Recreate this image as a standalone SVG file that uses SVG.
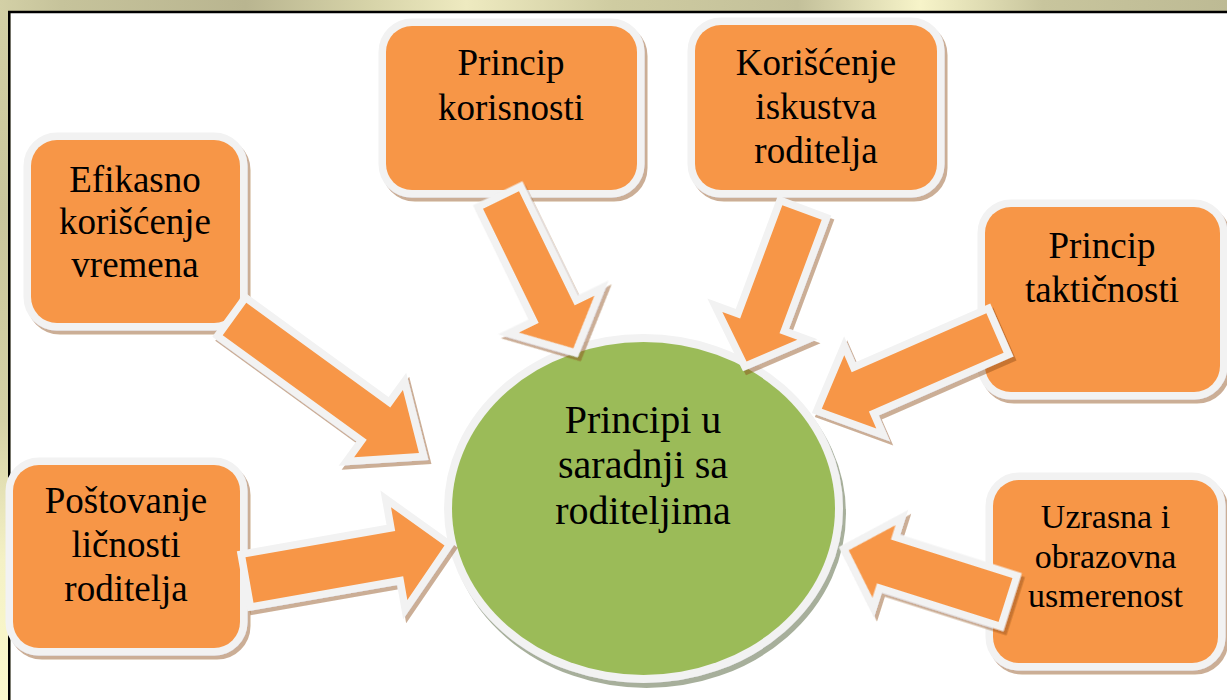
<svg xmlns="http://www.w3.org/2000/svg" width="1227" height="700" viewBox="0 0 1227 700">
<defs>
  <linearGradient id="gTop" x1="0" y1="0" x2="1227" y2="0" gradientUnits="userSpaceOnUse">
    <stop offset="0" stop-color="#d3d0a6"/>
    <stop offset="0.05" stop-color="#c6c39b"/>
    <stop offset="0.2" stop-color="#b9b590"/>
    <stop offset="0.3" stop-color="#d6d3a8"/>
    <stop offset="0.38" stop-color="#eeeac0"/>
    <stop offset="0.5" stop-color="#cfcca1"/>
    <stop offset="0.65" stop-color="#c3c09a"/>
    <stop offset="0.75" stop-color="#f7f4c9"/>
    <stop offset="0.85" stop-color="#c8c59d"/>
    <stop offset="1" stop-color="#bdba94"/>
  </linearGradient>
  <linearGradient id="gLeft" x1="0" y1="0" x2="0" y2="700" gradientUnits="userSpaceOnUse">
    <stop offset="0" stop-color="#d3d0a6"/>
    <stop offset="0.3" stop-color="#c9c69c"/>
    <stop offset="0.6" stop-color="#d5d2a6"/>
    <stop offset="0.8" stop-color="#f4f1c5"/>
    <stop offset="1" stop-color="#fbf9cd"/>
  </linearGradient>
  <filter id="shO" x="-20%" y="-20%" width="140%" height="140%">
    <feGaussianBlur in="SourceAlpha" stdDeviation="0.6" result="b"/>
    <feOffset in="b" dx="3" dy="4" result="o"/>
    <feFlood flood-color="#8c4a14" flood-opacity="0.45"/>
    <feComposite in2="o" operator="in" result="s"/>
    <feMerge><feMergeNode in="s"/><feMergeNode in="SourceGraphic"/></feMerge>
  </filter>
  <filter id="shG" x="-20%" y="-20%" width="140%" height="140%">
    <feGaussianBlur in="SourceAlpha" stdDeviation="0.6" result="b"/>
    <feOffset in="b" dx="3" dy="5" result="o"/>
    <feFlood flood-color="#4f6136" flood-opacity="0.5"/>
    <feComposite in2="o" operator="in" result="s"/>
    <feMerge><feMergeNode in="s"/><feMergeNode in="SourceGraphic"/></feMerge>
  </filter>
  <style>
    .box{fill:#F79646;stroke:#F2F2F2;stroke-width:15;paint-order:stroke;filter:url(#shO)}
    .arrow{fill:#F79646;stroke:#F2F2F2;stroke-width:15;stroke-linejoin:miter;paint-order:stroke}
    .hub{fill:#9BBB59;stroke:#F2F2F2;stroke-width:16;paint-order:stroke;filter:url(#shG)}
    text{font-family:"Liberation Serif","Times New Roman",serif;fill:#000;text-anchor:middle}
    .t{font-size:37px}
    .ts{font-size:34px}
    .th{font-size:40px}
  </style>
</defs>

<g id="frame">
  <rect x="0" y="0" width="1227" height="700" fill="url(#gLeft)"/>
  <rect x="0" y="0" width="1227" height="12" fill="url(#gTop)"/>
  <rect x="10.5" y="13" width="1217" height="687" fill="#ffffff"/>
  <path d="M9.25,700 V12 H1227" fill="none" stroke="#000" stroke-width="2.5"/>
</g>

<g id="node-efikasno">
  <rect class="box" x="31" y="140" width="209" height="183" rx="26"/>
  <text class="t" x="135" y="192">Efikasno</text>
  <text class="t" x="135" y="234">korišćenje</text>
  <text class="t" x="135" y="277">vremena</text>
</g>

<g id="node-korisnost">
  <rect class="box" x="386" y="26" width="251" height="164" rx="26"/>
  <text class="t" x="511" y="75">Princip</text>
  <text class="t" x="511" y="120">korisnosti</text>
</g>

<g id="node-iskustvo">
  <rect class="box" x="695" y="25" width="242" height="165" rx="26"/>
  <text class="t" x="816" y="75">Korišćenje</text>
  <text class="t" x="816" y="119">iskustva</text>
  <text class="t" x="816" y="163">roditelja</text>
</g>

<g id="node-takticnost">
  <rect class="box" x="985" y="207" width="235" height="185" rx="26"/>
  <text class="t" x="1102" y="258">Princip</text>
  <text class="t" x="1102" y="302">taktičnosti</text>
</g>

<g id="node-uzrasna">
  <rect class="box" x="993" y="480" width="225" height="183" rx="26"/>
  <text class="ts" x="1105.5" y="528">Uzrasna i</text>
  <text class="ts" x="1105.5" y="568">obrazovna</text>
  <text class="ts" x="1105.5" y="607">usmerenost</text>
</g>

<g id="node-postovanje">
  <rect class="box" x="13" y="465" width="227" height="183" rx="26"/>
  <text class="t" x="126" y="513">Poštovanje</text>
  <text class="t" x="126" y="557">ličnosti</text>
  <text class="t" x="126" y="601">roditelja</text>
</g>

<g id="node-center">
  <ellipse class="hub" cx="643.5" cy="508.5" rx="191.5" ry="166.5"/>
  <text class="th" x="643" y="433">Principi u</text>
  <text class="th" x="643" y="478">saradnji sa</text>
  <text class="th" x="643" y="524">roditeljima</text>
</g>

<g id="connectors" filter="url(#shO)">
  <path class="arrow" transform="translate(234.5,319) rotate(36)" d="M0,-20 H178 V-41.5 L228,0 L178,41.5 V20 H0 Z"/>
  <path class="arrow" transform="translate(501,200) rotate(64)" d="M0,-20 H127 V-42 L165,0 L127,42 V20 H0 Z"/>
  <path class="arrow" transform="translate(802,212.5) rotate(110.4)" d="M0,-21 H121 V-40 L159,0 L121,40 V21 H0 Z"/>
  <path class="arrow" transform="translate(995,333) rotate(156.4)" d="M0,-21.5 H147 V-40 L189,0 L147,40 V21.5 H0 Z"/>
  <path class="arrow" transform="translate(1005.5,600) rotate(197.6)" d="M0,-23 H127.5 V-38 L164.5,0 L127.5,38 V23 H0 Z"/>
  <path class="arrow" transform="translate(249.5,580) rotate(-10)" d="M0,-23 H152 V-47 L198,0 L152,47 V23 H0 Z"/>
</g>
</svg>
